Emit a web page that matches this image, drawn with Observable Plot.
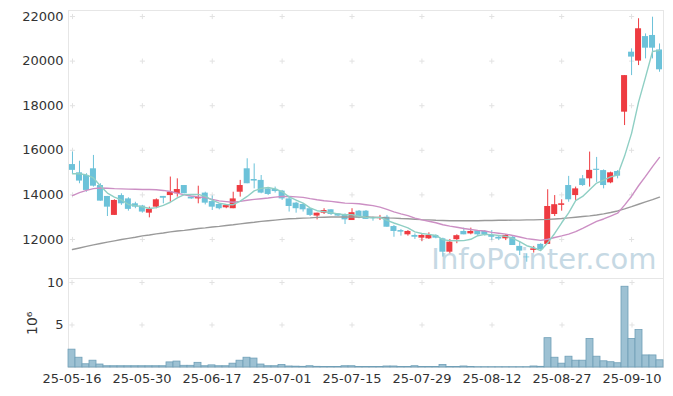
<!DOCTYPE html>
<html><head><meta charset="utf-8">
<script src="https://cdn.jsdelivr.net/npm/d3@7"></script>
<script src="https://cdn.jsdelivr.net/npm/@observablehq/plot@0.6"></script>
<style>
body{margin:0;background:#fff;}
#chart{width:673px;height:396px;position:relative;background:#fff;}
#chart svg{display:block;}
</style></head><body><div id="chart"></div>
<script>
const dates = ["25-05-16","25-05-19","25-05-20","25-05-21","25-05-22","25-05-23","25-05-26","25-05-27","25-05-28","25-05-29",
"25-05-30","25-06-02","25-06-04","25-06-05","25-06-09","25-06-10","25-06-11","25-06-12","25-06-13","25-06-16",
"25-06-17","25-06-18","25-06-19","25-06-20","25-06-23","25-06-24","25-06-25","25-06-26","25-06-27","25-06-30",
"25-07-01","25-07-02","25-07-03","25-07-04","25-07-07","25-07-08","25-07-09","25-07-10","25-07-11","25-07-14",
"25-07-15","25-07-16","25-07-17","25-07-18","25-07-21","25-07-22","25-07-23","25-07-24","25-07-25","25-07-28",
"25-07-29","25-07-30","25-07-31","25-08-01","25-08-04","25-08-05","25-08-06","25-08-07","25-08-08","25-08-11",
"25-08-12","25-08-13","25-08-14","25-08-18","25-08-19","25-08-20","25-08-21","25-08-22","25-08-25","25-08-26",
"25-08-27","25-08-28","25-08-29","25-09-01","25-09-02","25-09-03","25-09-04","25-09-05","25-09-08","25-09-09",
"25-09-10","25-09-11","25-09-12","25-09-15","25-09-16"];

const open = [15360,14990,14870,15170,14420,13930,13080,13970,13820,13600,
13500,13180,13450,13930,13970,14050,14420,13900,13820,14080,
13700,13570,13420,13380,14120,15170,14690,14650,14270,14250,
14170,13820,13630,13570,13380,13050,13180,13330,13150,13110,
12850,13270,13270,12970,12930,13000,12580,12400,12210,12180,
12060,12030,12180,12030,11430,11990,12360,12250,12390,12360,
12180,12100,12030,12100,11690,11210,11510,11780,11780,13120,
13530,14420,13970,14720,14720,15150,15090,14540,15050,17710,
20400,20000,21100,21150,20500];
const high = [15920,15510,14950,15770,14500,13930,13780,14050,13870,13670,
13530,13450,13820,13930,14800,14720,14420,13900,14390,14120,
13950,13600,13570,14120,14650,15620,15390,14870,14320,14350,
14200,13900,13670,13600,13380,13180,13380,13330,13150,13150,
13380,13300,13300,13000,13080,13080,12630,12450,12400,12250,
12250,12300,12210,12060,12000,12210,12510,12510,12400,12400,
12400,12180,12220,12130,11880,11360,11690,11810,14230,13970,
13780,14830,14350,14870,15920,15680,15120,15020,15090,19350,
20550,21900,21220,21970,20770];
const low = [14950,14500,14120,14350,13720,13030,13080,13530,13270,13380,
13180,12970,13380,13600,13670,13900,14050,13800,13600,13550,
13300,13330,13380,13380,13900,14500,14270,14050,13970,14080,
13750,13230,13180,13230,13030,12880,13120,13080,13030,12670,
12850,12930,12900,12820,12850,12550,12100,12150,12150,12000,
11910,12000,12030,11210,11360,11810,12210,12210,12150,12150,
11950,11950,11950,11730,11280,10980,11390,11510,11780,13030,
13270,13670,13750,14380,14350,14560,14270,14500,14720,17110,
19350,19800,20100,20100,19500];
const close = [15100,14620,14200,14390,13720,13450,13750,13600,13350,13450,
13230,13350,13780,13850,14120,14240,14050,13820,13880,13630,
13450,13380,13520,13820,14420,14500,14620,14080,14020,14150,
13820,13480,13380,13330,13080,13180,13300,13120,13050,12880,
13200,12960,12900,12930,12970,12550,12360,12330,12360,12100,
12180,12180,12060,11430,11880,12170,12210,12360,12210,12210,
12100,12020,12180,11730,11480,11180,11580,11540,13480,13560,
13600,13780,14270,14420,15100,15100,14420,14990,14840,19350,
20180,21450,20580,20580,19610];
// volume in millions of shares
const volume = [2.1,1.15,0.38,0.8,0.35,0.15,0.15,0.15,0.15,0.15,
0.15,0.15,0.15,0.15,0.6,0.7,0.2,0.2,0.55,0.15,
0.25,0.15,0.15,0.45,0.8,1.15,1.05,0.35,0.15,0.15,
0.3,0.12,0.1,0.08,0.15,0.08,0.06,0.06,0.06,0.15,
0.15,0.06,0.06,0.06,0.06,0.12,0.12,0.05,0.05,0.15,
0.05,0.05,0.05,0.3,0.06,0.05,0.12,0.05,0.04,0.04,
0.04,0.04,0.04,0.04,0.04,0.04,0.12,0.08,3.45,1.15,
0.45,1.27,0.8,0.8,3.35,1.27,0.73,0.62,0.5,9.5,
3.35,4.4,1.42,1.42,0.85];
const ma5 = [14950,14950,14900,14760,14400,14080,13900,13780,13570,13520,
13470,13390,13430,13530,13670,13870,14010,14020,14020,13930,
13770,13630,13570,13560,13720,13930,14180,14290,14330,14270,
14140,13910,13770,13630,13420,13290,13250,13200,13150,13110,
13110,13040,13000,12970,12990,12860,12740,12630,12520,12340,
12270,12230,12180,11990,11950,11940,11950,12010,12170,12230,
12220,12180,12140,12050,11900,11720,11630,11500,11850,12270,
12750,13190,13740,13930,14230,14530,14660,14810,14890,15740,
16760,18160,19280,20430,20480];
const ma20 = [13970,14100,14200,14280,14310,14300,14280,14270,14260,14250,
14240,14240,14230,14200,14150,14080,14000,13950,13910,13880,
13800,13730,13700,13670,13710,13760,13800,13830,13860,13900,
13930,13930,13910,13890,13830,13780,13740,13710,13670,13630,
13620,13600,13560,13520,13450,13350,13240,13150,13070,12960,
12880,12820,12750,12660,12600,12550,12490,12450,12410,12380,
12320,12280,12240,12180,12110,12040,12000,11960,12010,12090,
12160,12240,12350,12500,12660,12810,12920,13050,13180,13540,
13940,14410,14830,15270,15680];
const ma120 = [11550,11620,11690,11760,11820,11880,11940,12000,12050,12100,
12160,12200,12250,12290,12340,12380,12410,12450,12490,12520,
12560,12590,12630,12660,12700,12740,12770,12810,12840,12870,
12900,12930,12940,12960,12970,12990,13000,13010,13010,13010,
13010,13010,13010,13000,12990,12970,12960,12940,12930,12910,
12890,12880,12860,12850,12840,12840,12840,12840,12840,12850,
12850,12860,12860,12870,12870,12880,12880,12890,12900,12920,
12940,12970,13000,13030,13060,13100,13150,13210,13280,13370,
13470,13580,13690,13790,13900];

const xTicks = ["25-05-16","25-05-30","25-06-17","25-07-01","25-07-15","25-07-29","25-08-12","25-08-27","25-09-10"];
const priceTicks = [12000,14000,16000,18000,20000,22000];
const volTicks = [5,10];

const rows = dates.map((d, i) => ({
  date: d, open: open[i], high: high[i], low: low[i], close: close[i],
  volume: volume[i], ma5: ma5[i], ma20: ma20[i], ma120: ma120[i],
  up: close[i] >= open[i]
}));
const UP = "#ee3b41", DOWN = "#6cc2d9";
const FONT = "DejaVu Sans";
const gridPts = priceTicks.flatMap(p => xTicks.map(t => ({t, p})));
const volGrid = volTicks.flatMap(p => xTicks.map(t => ({t, p})));

const main = Plot.plot({
  width: 673, height: 278,
  marginLeft: 68, marginRight: 10, marginTop: 10, marginBottom: 0,
  style: {fontFamily: FONT, fontSize: "13px", color: "#333", background: "#fff", overflow: "visible"},
  x: {type: "band", domain: dates, padding: 0.14, axis: null},
  y: {domain: [10250, 22270], label: null},
  marks: [
    Plot.frame({stroke: "#e6e6e6"}),
    Plot.dot(gridPts, {x: "t", y: "p", symbol: "plus", r: 1.8, stroke: "#e2e2e2", strokeWidth: 1}),
    Plot.axisY({ticks: priceTicks, tickSize: 0, tickPadding: 5, tickFormat: d => String(d), fill: "#333", label: null}),
    Plot.text(["InfoPointer.com"], {frameAnchor: "bottom-right", dx: -7, dy: -10, fontSize: 29, fill: "#c6d9e4", fontFamily: FONT}),
    Plot.ruleX(rows, {x: "date", y1: "low", y2: "high", stroke: d => d.up ? UP : DOWN, strokeWidth: 1}),
    Plot.barY(rows, {x: "date", y1: "open", y2: "close", fill: d => d.up ? UP : DOWN}),
    Plot.line(rows, {x: "date", y: "ma120", stroke: "#9a9a9a", strokeWidth: 1.4}),
    Plot.line(rows, {x: "date", y: "ma20", stroke: "#cc8fc4", strokeWidth: 1.4}),
    Plot.line(rows, {x: "date", y: "ma5", stroke: "#8fcfc4", strokeWidth: 1.4})
  ]
});

const vol = Plot.plot({
  width: 673, height: 118,
  marginLeft: 68, marginRight: 10, marginTop: 0, marginBottom: 29,
  style: {fontFamily: FONT, fontSize: "13px", color: "#333", background: "#fff", overflow: "visible"},
  x: {type: "band", domain: dates, padding: 0, label: null},
  y: {domain: [0, 10.47], label: null},
  marks: [
    Plot.frame({stroke: "#e6e6e6"}),
    Plot.dot(volGrid, {x: "t", y: "p", symbol: "plus", r: 1.8, stroke: "#e2e2e2", strokeWidth: 1}),
    Plot.axisY({ticks: volTicks, tickSize: 0, tickPadding: 5, fill: "#333", label: null}),
    Plot.axisX({ticks: xTicks, tickSize: 0, tickPadding: 6, fill: "#333", label: null}),
    Plot.text(["10⁶"], {frameAnchor: "left", dx: -36, dy: 12, rotate: -90, fontSize: 14, fill: "#333", fontFamily: FONT}),
    Plot.barY(rows, {x: "date", y: "volume", fill: "#9dc1d3", stroke: "#6f9fb7", strokeWidth: 0.8, inset: 0})
  ]
});

const el = document.getElementById("chart");
el.appendChild(main);
el.appendChild(vol);
</script>
</body></html>
